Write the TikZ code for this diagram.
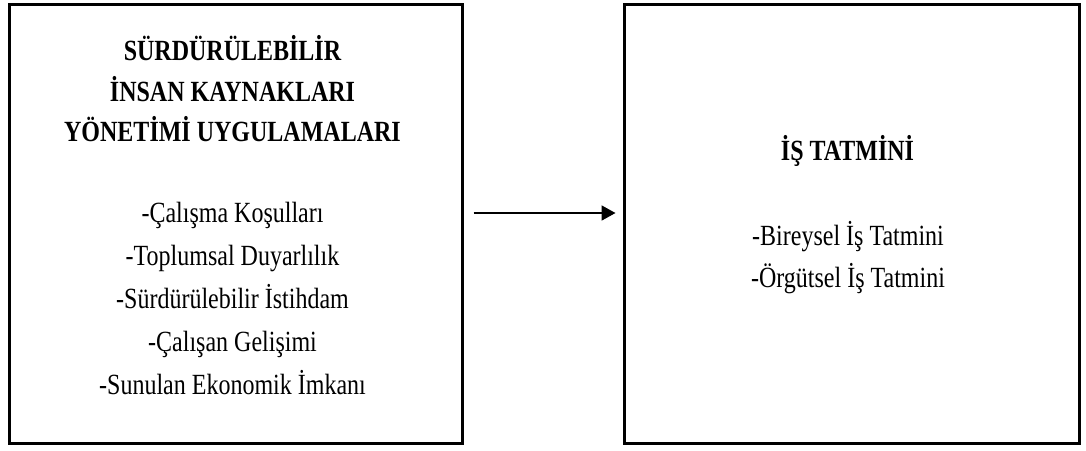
\documentclass[tikz,border=0pt]{standalone}
\usepackage{fontspec}
\usepackage{graphicx}
\setmainfont{Liberation Serif}
\usetikzlibrary{arrows.meta}
% text set a little taller than wide
\newcommand{\tallbox}[1]{\scalebox{1}[1.22]{#1}}
\begin{document}
\begin{tikzpicture}[x=1pt,y=-1pt,
  panel/.style={draw=black,line width=3pt,minimum width=#1,minimum height=439pt,inner sep=0pt},
  heading/.style={font=\fontsize{24}{28}\selectfont\bfseries,anchor=base,inner sep=0pt},
  item/.style={font=\fontsize{24}{28}\selectfont,anchor=base,inner sep=0pt},
  link/.style={line width=1.8pt,-{Triangle[length=14pt,width=15pt]}}]
  \useasboundingbox (0,0) rectangle (1086,450);
  % the two boxes
  \node[panel=453pt] (L) at (235.5,223.5) {};
  \node[panel=455pt] (R) at (851.5,223.5) {};
  % left box: heading
  \node[heading] (lh1) at (232.5,60)  {\tallbox{SÜRDÜRÜLEBİLİR}};
  \node[heading] (lh2) at (232.5,101) {\tallbox{İNSAN KAYNAKLARI}};
  \node[heading] (lh3) at (232.5,141) {\tallbox{YÖNETİMİ UYGULAMALARI}};
  % left box: items
  \node[item] (li1) at (232.5,222) {\tallbox{-Çalışma Koşulları}};
  \node[item] (li2) at (232.5,265) {\tallbox{-Toplumsal Duyarlılık}};
  \node[item] (li3) at (232.5,308) {\tallbox{-Sürdürülebilir İstihdam}};
  \node[item] (li4) at (232.5,351) {\tallbox{-Çalışan Gelişimi}};
  \node[item] (li5) at (232.5,394) {\tallbox{-Sunulan Ekonomik İmkanı}};
  % right box
  \node[heading] (rh1) at (847.5,160) {\tallbox{İŞ TATMİNİ}};
  \node[item] (ri1) at (848,245) {\tallbox{-Bireysel İş Tatmini}};
  \node[item] (ri2) at (848,287) {\tallbox{-Örgütsel İş Tatmini}};
  % relation
  \draw[link,shorten <=10pt,shorten >=7pt] ([yshift=10.5pt]L.east) -- ([yshift=10.5pt]R.west);
\end{tikzpicture}
\end{document}
